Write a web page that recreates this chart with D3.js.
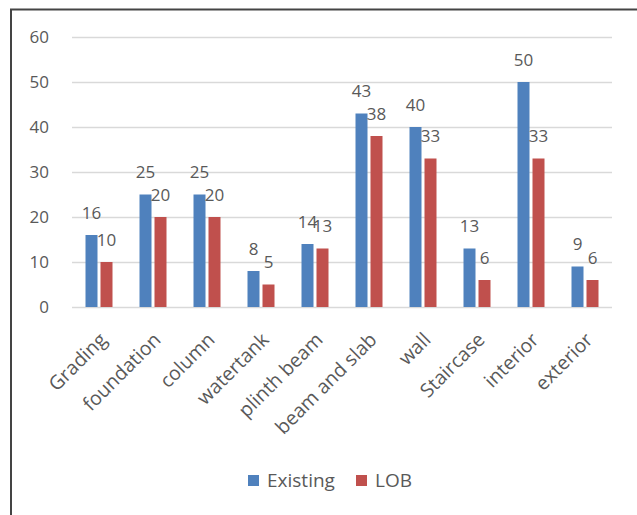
<!DOCTYPE html>
<html>
<head>
<meta charset="utf-8">
<script src="https://cdn.jsdelivr.net/npm/d3@7"></script>
<style>
  html, body { margin: 0; padding: 0; background: #fff; }
  svg { display: block; }
  text { font-family: "Open Sans", sans-serif; fill: #595959; }
</style>
</head>
<body>
<svg id="chart" width="637" height="515"></svg>
<script>
const categories = ["Grading", "foundation", "column", "watertank", "plinth beam", "beam and slab", "wall", "Staircase", "interior", "exterior"];
const existing = [16, 25, 25, 8, 14, 43, 40, 13, 50, 9];
const lob = [10, 20, 20, 5, 13, 38, 33, 6, 33, 6];
const seriesNames = ["Existing", "LOB"];
const seriesColors = ["#4F81BD", "#C0504D"];
const yTicks = [0, 10, 20, 30, 40, 50, 60];

const svg = d3.select("#chart");

// frame
svg.append("line").attr("x1", 10).attr("x2", 637).attr("y1", 9.5).attr("y2", 9.5)
  .attr("stroke", "#444").attr("stroke-width", 2);
svg.append("line").attr("x1", 11).attr("x2", 11).attr("y1", 9).attr("y2", 515)
  .attr("stroke", "#444").attr("stroke-width", 2);

const x = d3.scaleBand().domain(categories).range([72, 612]).paddingInner(0.5).paddingOuter(0.25);
const x1 = d3.scaleBand().domain(seriesNames).range([0, x.bandwidth()]).paddingInner(0.2);
const y = d3.scaleLinear().domain([0, 60]).range([307, 37]);

// gridlines
svg.append("g").selectAll("line").data(yTicks).join("line")
  .attr("x1", 72).attr("x2", 612)
  .attr("y1", d => Math.round(y(d)) + 0.5).attr("y2", d => Math.round(y(d)) + 0.5)
  .attr("stroke", "#D9D9D9").attr("stroke-width", 1.5);

// y tick labels
svg.append("g").selectAll("text").data(yTicks).join("text")
  .attr("x", 49).attr("y", d => y(d)).attr("dy", "0.35em")
  .attr("text-anchor", "end").style("font-size", "17px")
  .text(d => d);

const rows = categories.map((c, i) => ({ cat: c, vals: [existing[i], lob[i]] }));

const groups = svg.append("g").selectAll("g").data(rows).join("g")
  .attr("transform", d => `translate(${x(d.cat)},0)`);

groups.selectAll("rect").data(d => d.vals.map((v, j) => ({ v, s: seriesNames[j], c: seriesColors[j] })))
  .join("rect")
  .attr("x", d => x1(d.s)).attr("width", x1.bandwidth())
  .attr("y", d => y(d.v)).attr("height", d => y(0) - y(d.v))
  .attr("fill", d => d.c);

groups.selectAll("text.val").data(d => d.vals.map((v, j) => ({ v, s: seriesNames[j] })))
  .join("text").attr("class", "val")
  .attr("x", d => x1(d.s) + x1.bandwidth() / 2)
  .attr("y", d => y(d.v) - 16.5)
  .attr("text-anchor", "middle").style("font-size", "17px")
  .text(d => d.v);

// x labels rotated
svg.append("g").selectAll("text").data(categories).join("text")
  .attr("text-anchor", "end").style("font-size", "19.5px")
  .attr("transform", d => `translate(${x(d) + x.bandwidth() / 2 + 9},341) rotate(-45)`)
  .text(d => d);

// legend
const legend = svg.append("g");
const legendItems = [{ name: "Existing", color: seriesColors[0], x: 248 }, { name: "LOB", color: seriesColors[1], x: 356 }];
legendItems.forEach(it => {
  legend.append("rect").attr("x", it.x).attr("y", 475).attr("width", 11).attr("height", 11).attr("fill", it.color);
  legend.append("text").attr("x", it.x + 19).attr("y", 487).style("font-size", "19px").text(it.name);
});
</script>
</body>
</html>
